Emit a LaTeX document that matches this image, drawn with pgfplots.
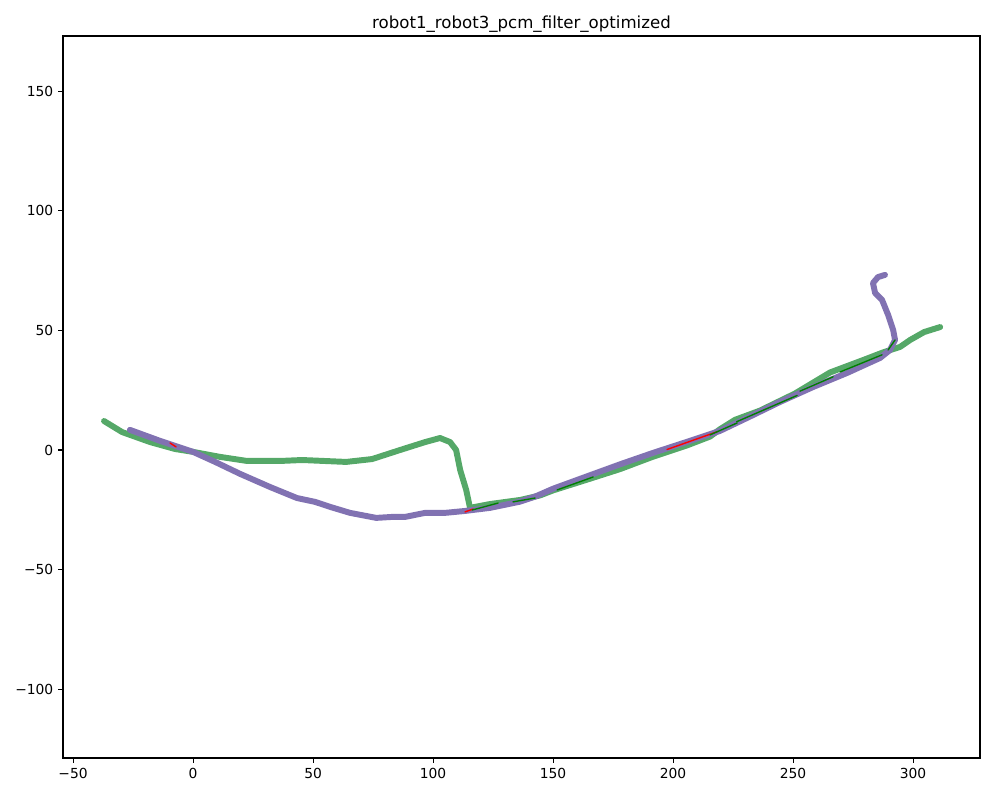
\documentclass[border=0pt]{standalone}
\usepackage{fontspec}
\setmainfont{DejaVu Sans}
\usepackage{pgfplots}
\pgfplotsset{compat=1.18}
\definecolor{sgreen}{HTML}{55A868}
\definecolor{spurple}{HTML}{8172B2}
\definecolor{dgreen}{HTML}{008000}
\begin{document}
\begin{tikzpicture}
\begin{axis}[
    scale only axis,
    width=9.17in, height=7.22in,
    xmin=-54.2, xmax=327.9,
    ymin=-128.8, ymax=173.1,
    xtick={-50,0,50,100,150,200,250,300},
    xticklabels={−50,0,50,100,150,200,250,300},
    ytick={-100,-50,0,50,100,150},
    yticklabels={−100,−50,0,50,100,150},
    tick align=outside, xtick pos=bottom, ytick pos=left,
    major tick length=3.5pt, minor tick num=0,
    tick style={black, line width=0.8pt},
    axis line style={line width=0.8pt},
    ticklabel style={font=\fontsize{10}{12}\selectfont},
    title={robot1\_robot3\_pcm\_filter\_optimized},
    title style={at={(0.5,1)}, anchor=base, yshift=-0.3pt, inner sep=0pt, font=\fontsize{12}{14}\selectfont},
    every axis plot/.append style={line cap=round, line join=round},
]
% robot1 trajectory
\addplot[sgreen, line width=4.3pt] coordinates {
(-37.1,12.1) (-29.6,7.5) (-17.9,3.3) (-7.5,0.4) (0,-0.8) (11.3,-2.9) (22.5,-4.6)
(36.3,-4.6) (45.4,-4.2) (63.8,-5.0) (74.6,-3.8) (86.3,0) (96.7,3.3) (102.9,5.0)
(107.1,3.3) (109.6,0) (111.3,-8.4) (113.8,-16.7) (115.4,-24.2) (117.5,-23.8)
(123.8,-22.6) (136.3,-20.9) (144.6,-19.0) (150,-16.9) (164.2,-12.4) (177.9,-8.0)
(191.7,-2.8) (205.8,1.9) (215.4,5.6) (219.6,8.7) (225.8,12.6) (236.3,16.5)
(250.8,23.6) (265.4,32.4) (279.2,37.6) (287.5,40.8) (294.6,43.1) (298.8,46.0)
(304.6,49.3) (311.3,51.4)
};
% robot3 trajectory
\addplot[spurple, line width=4.3pt] coordinates {
(-26.3,8.4) (-13.75,3.8) (0,-0.8) (9.2,-5.0) (19.6,-10.0) (32.1,-15.5) (43.3,-20.1)
(50.8,-21.7) (57.1,-23.8) (65.4,-26.3) (76.3,-28.4) (82.9,-28.0) (88.3,-28.0)
(96.7,-26.3) (105,-26.3) (113.3,-25.5) (123.8,-24.2) (136.3,-21.6) (142.5,-19.5)
(150,-16.2) (164.2,-11.0) (177.9,-6.0) (191.7,-1.2) (205.8,3.4) (219.6,8.0)
(232.1,14.0) (244.6,20.1) (258.3,26.3) (272.5,32.2) (286.3,38.5) (290.4,41.8)
(292.5,46.0) (291.7,50.2) (289.6,56.5) (287.1,62.7) (284.2,65.6) (283.3,69.8)
(285.4,72.3) (288.3,73.2)
};
% rejected loop closures
\addplot[red, line width=1pt] coordinates {(-9.6,2.9) (-7.1,1.3)};
\addplot[red, line width=1pt] coordinates {(113.3,-25.9) (116.7,-24.7)};
\addplot[red, line width=1pt] coordinates {(197.5,0.2) (218.3,7.6)};
% accepted loop closures
\addplot[dgreen, line width=1pt] coordinates {(116.3,-25.1) (127.1,-22.2)};
\addplot[dgreen, line width=1pt] coordinates {(133.3,-21.7) (142.5,-20.1)};
\addplot[dgreen, line width=1pt] coordinates {(151.7,-16.7) (166.7,-11.3)};
\addplot[dgreen, line width=1pt] coordinates {(215.4,6.3) (226.7,11.3)};
\addplot[dgreen, line width=1pt] coordinates {(226.5,11.8) (251.7,22.8)};
\addplot[dgreen, line width=1pt] coordinates {(252.9,24.6) (266.7,30.6)};
\addplot[dgreen, line width=1pt] coordinates {(269.6,32.6) (287.1,39.8)};
\addplot[dgreen, line width=1pt] coordinates {(289.6,41.8) (292.5,46.0)};
\end{axis}
\pgfresetboundingbox
\path[use as bounding box] ([shift={(-0.63in,-0.39in)}]current axis.south west) rectangle ([shift={(0.17in,0.36in)}]current axis.north east);
\end{tikzpicture}
\end{document}
